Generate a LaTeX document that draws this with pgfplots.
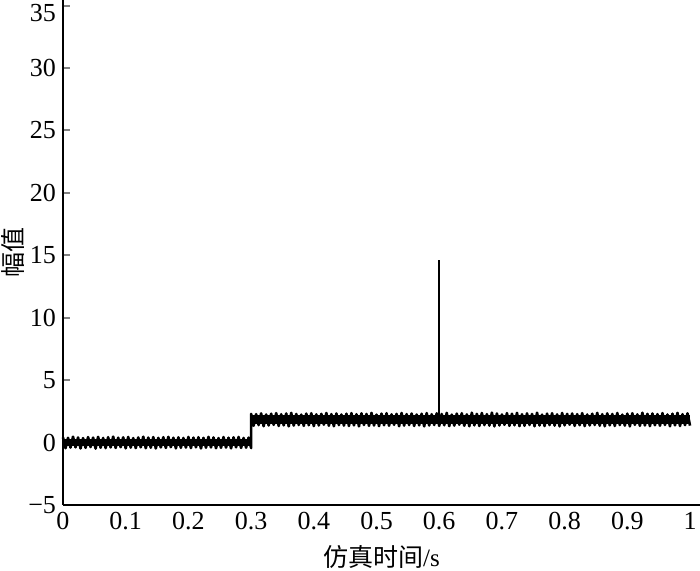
\documentclass[border=0pt]{standalone}
\usepackage{fontspec}
\setmainfont{Liberation Serif}
\newfontfamily\cjk{Noto Sans CJK SC}
\usepackage{pgfplots}
\pgfplotsset{compat=1.18}

\begin{document}
\begin{tikzpicture}
\begin{axis}[
  scale only axis,width=318.5pt,height=252.5pt,
  xmin=0,xmax=1.0159,ymin=-5,ymax=35.45,
  axis lines=left,axis line style={-,line width=1pt},
  tick align=inside,
  xtick={0,0.1,0.2,0.3,0.4,0.5,0.6,0.7,0.8,0.9,1},
  xticklabels={0,0.1,0.2,0.3,0.4,0.5,0.6,0.7,0.8,0.9,1},
  ytick={-5,0,5,10,15,20,25,30,35},
  yticklabels={−5,0,5,10,15,20,25,30,\raisebox{-3.5pt}[\height][\depth]{35}},
  x tick style={draw=none},
  y tick style={line width=1pt},
  major tick length=3.5pt,
  ticklabel style={font=\fontsize{13}{15}\selectfont},
  xlabel={{\cjk 仿真时间}/s},
  ylabel={\cjk 幅值},
  every axis x label/.style={at={(axis description cs:0.5,0)},yshift=-26pt,anchor=center},
  every axis y label/.style={at={(axis description cs:0,0.5)},xshift=-25pt,rotate=90,anchor=center},
  label style={font=\fontsize{12.5}{14}\selectfont},
  clip=false]
  % solid core of the two noise bands
  \addplot[fill=black,draw=none] coordinates {(0,-0.3)(0.3,-0.3)(0.3,0.3)(0,0.3)} -- cycle;
  \addplot[fill=black,draw=none] coordinates {(0.3,1.5)(1.0,1.5)(1.0,2.2)(0.3,2.2)} -- cycle;
  % noisy signal: zero level until 0.3 s, then about 1.85
  \addplot[black,line width=1.3pt,line join=round] coordinates {
  (0,0.42)(0.004,-0.45)(0.008,0.38)(0.012,-0.40)(0.016,0.47)(0.020,-0.38)(0.024,0.41)(0.028,-0.47)
  (0.032,0.36)(0.036,-0.42)(0.040,0.44)(0.044,-0.36)(0.048,0.40)(0.052,-0.48)(0.056,0.46)(0.060,-0.41)
  (0.064,0.37)(0.068,-0.44)(0.072,0.43)(0.076,-0.39)(0.080,0.48)(0.084,-0.43)(0.088,0.39)(0.092,-0.37)
  (0.096,0.42)(0.100,-0.46)(0.104,0.45)(0.108,-0.40)(0.112,0.36)(0.116,-0.44)(0.120,0.41)(0.124,-0.38)
  (0.128,0.47)(0.132,-0.45)(0.136,0.40)(0.140,-0.41)(0.144,0.44)(0.148,-0.47)(0.152,0.38)(0.156,-0.39)
  (0.160,0.43)(0.164,-0.43)(0.168,0.46)(0.172,-0.37)(0.176,0.39)(0.180,-0.46)(0.184,0.42)(0.188,-0.42)
  (0.192,0.37)(0.196,-0.40)(0.200,0.45)(0.204,-0.44)(0.208,0.40)(0.212,-0.38)(0.216,0.43)(0.220,-0.47)
  (0.224,0.38)(0.228,-0.41)(0.232,0.46)(0.236,-0.39)(0.240,0.41)(0.244,-0.45)(0.248,0.36)(0.252,-0.42)
  (0.256,0.44)(0.260,-0.40)(0.264,0.39)(0.268,-0.46)(0.272,0.42)(0.276,-0.38)(0.280,0.45)(0.284,-0.43)
  (0.288,0.37)(0.292,-0.41)(0.296,0.40)(0.300,-0.44)
  (0.300,2.30)(0.304,1.35)(0.308,2.28)(0.312,1.40)(0.316,2.34)(0.320,1.31)(0.324,2.25)(0.328,1.37)
  (0.332,2.31)(0.336,1.42)(0.340,2.36)(0.344,1.33)(0.348,2.27)(0.352,1.38)(0.356,2.33)(0.360,1.30)
  (0.364,2.38)(0.368,1.36)(0.372,2.29)(0.376,1.41)(0.380,2.24)(0.384,1.34)(0.388,2.32)(0.392,1.39)
  (0.396,2.35)(0.400,1.32)(0.404,2.26)(0.408,1.37)(0.412,2.30)(0.416,1.43)(0.420,2.37)(0.424,1.35)
  (0.428,2.28)(0.432,1.31)(0.436,2.33)(0.440,1.40)(0.444,2.25)(0.448,1.36)(0.452,2.31)(0.456,1.33)
  (0.460,2.36)(0.464,1.38)(0.468,2.27)(0.472,1.30)(0.476,2.34)(0.480,1.41)(0.484,2.29)(0.488,1.34)
  (0.492,2.38)(0.496,1.37)(0.500,2.24)(0.504,1.32)(0.508,2.32)(0.512,1.39)(0.516,2.35)(0.520,1.35)
  (0.524,2.26)(0.528,1.42)(0.532,2.30)(0.536,1.31)(0.540,2.37)(0.544,1.36)(0.548,2.28)(0.552,1.40)
  (0.556,2.33)(0.560,1.33)(0.564,2.25)(0.568,1.38)(0.572,2.31)(0.576,1.30)(0.580,2.36)(0.584,1.37)
  (0.588,2.27)(0.592,1.41)(0.596,2.34)(0.600,1.34)(0.604,2.29)(0.608,1.39)(0.612,2.38)(0.616,1.32)
  (0.620,2.24)(0.624,1.36)(0.628,2.32)(0.632,1.43)(0.636,2.35)(0.640,1.35)(0.644,2.26)(0.648,1.31)
  (0.652,2.39)(0.656,1.38)(0.660,2.30)(0.664,1.33)(0.668,2.37)(0.672,1.40)(0.676,2.28)(0.680,1.36)
  (0.684,2.40)(0.688,1.30)(0.692,2.33)(0.696,1.37)(0.700,2.25)(0.704,1.42)(0.708,2.36)(0.712,1.34)
  (0.716,2.31)(0.720,1.39)(0.724,2.38)(0.728,1.32)(0.732,2.27)(0.736,1.35)(0.740,2.34)(0.744,1.41)
  (0.748,2.29)(0.752,1.31)(0.756,2.39)(0.760,1.37)(0.764,2.24)(0.768,1.33)(0.772,2.32)(0.776,1.40)
  (0.780,2.35)(0.784,1.36)(0.788,2.26)(0.792,1.30)(0.796,2.37)(0.800,1.38)(0.804,2.30)(0.808,1.43)
  (0.812,2.33)(0.816,1.34)(0.820,2.28)(0.824,1.39)(0.828,2.36)(0.832,1.32)(0.836,2.25)(0.840,1.37)
  (0.844,2.31)(0.848,1.41)(0.852,2.38)(0.856,1.35)(0.860,2.27)(0.864,1.31)(0.868,2.34)(0.872,1.38)
  (0.876,2.29)(0.880,1.33)(0.884,2.37)(0.888,1.40)(0.892,2.24)(0.896,1.36)(0.900,2.32)(0.904,1.30)
  (0.908,2.35)(0.912,1.42)(0.916,2.26)(0.920,1.34)(0.924,2.39)(0.928,1.37)(0.932,2.30)(0.936,1.32)
  (0.940,2.33)(0.944,1.39)(0.948,2.28)(0.952,1.35)(0.956,2.36)(0.960,1.41)(0.964,2.25)(0.968,1.31)
  (0.972,2.31)(0.976,1.38)(0.980,2.38)(0.984,1.33)(0.988,2.27)(0.992,1.40)(0.996,2.34)(1.000,1.36)
  };
  % spike at 0.6 s
  \addplot[black,line width=1pt] coordinates {(0.6,1.8)(0.6,14.6)};
\end{axis}
\pgfresetboundingbox
\path (-31.5pt,-33pt) rectangle (318.5pt,252.5pt);
\end{tikzpicture}
\end{document}
